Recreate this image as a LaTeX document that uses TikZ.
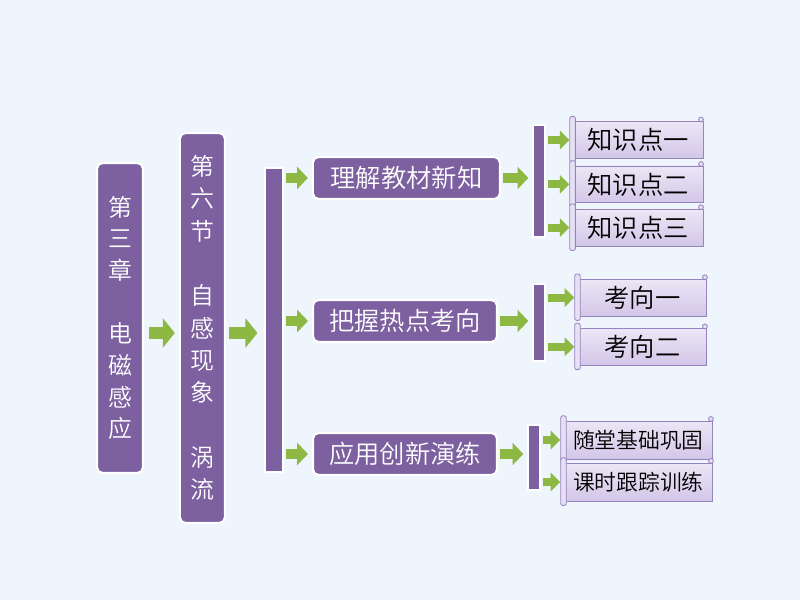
\documentclass[tikz,border=0pt]{standalone}
\usepackage{fontspec}
\setmainfont{Noto Sans CJK SC}[UprightFont=* DemiLight]
\usetikzlibrary{arrows.meta}
\definecolor{bgblue}{HTML}{EEF5FC}
\definecolor{boxpurple}{HTML}{7D60A0}
\definecolor{arrgreen}{HTML}{8DB843}
\definecolor{scrollfill}{HTML}{DDD2EF}
\definecolor{scrolledge}{HTML}{9585BE}

\tikzset{
  mainbox/.style={fill=boxpurple, draw=white, line width=1.5pt, rounded corners=4pt,
    text=white, inner sep=0pt, align=center},
  bar/.style={fill=boxpurple, draw=white, line width=1pt, inner sep=0pt},
  scroll/.style={top color=scrollfill!55!white, bottom color=scrollfill!85!scrolledge,
    draw=scrolledge, line width=0.6pt, inner sep=0pt, minimum height=0.92cm,
    font=\fontsize{18}{22}\selectfont},
  smallscroll/.style={scroll, minimum height=0.95cm, font=\fontsize{15.5}{19}\selectfont},
  bigarr/.style={arrgreen, line width=0.3cm, -{Triangle[width=0.72cm,length=0.3cm]}},
  midarr/.style={arrgreen, line width=0.24cm, -{Triangle[width=0.55cm,length=0.27cm]},
    shorten <=0.06cm, shorten >=0.1cm},
  smallarr/.style={arrgreen, line width=0.2cm, -{Triangle[width=0.46cm,length=0.24cm]},
    shorten <=0.05cm, shorten >=0.08cm}
}

% scroll shaped leaf box: style, name, position, width, text
\newcommand\scrollnode[5]{%
  \node[#1, minimum width=#4] (#2) at (#3) {#5};
  \draw[scrolledge, fill=scrollfill!70!white, line width=0.6pt, rounded corners=1.5pt]
    ([xshift=-0.07cm,yshift=0.12cm]#2.north west) rectangle ([xshift=0.07cm,yshift=-0.1cm]#2.south west);
  \draw[scrolledge, fill=scrollfill!70!white, line width=0.6pt]
    ([xshift=-0.06cm,yshift=0.04cm]#2.north east) circle (0.06cm);
}

\begin{document}
\begin{tikzpicture}
  \fill[bgblue] (0,0) rectangle (20,15);

  % chapter and section
  \node[mainbox, minimum width=1.15cm, minimum height=7.75cm,
    font=\fontsize{17}{22.5}\selectfont] (chap) at (3.0,7.05)
    {第\\三\\章\\~\\电\\磁\\感\\应};
  \node[mainbox, minimum width=1.125cm, minimum height=9.75cm,
    font=\fontsize{17}{23}\selectfont] (sec) at (5.06,6.8)
    {第\\六\\节\\~\\自\\感\\现\\象\\~\\涡\\流};
  \node[bar, minimum width=0.45cm, minimum height=7.6cm] (trunk) at (6.85,7.0) {};

  % three parts
  \node[mainbox, minimum width=4.675cm, minimum height=1.05cm,
    font=\fontsize{18}{22}\selectfont] (learn) at (10.16,10.55) {理解教材新知};
  \node[mainbox, minimum width=4.6cm, minimum height=1.05cm,
    font=\fontsize{18}{22}\selectfont] (focus) at (10.125,6.975) {把握热点考向};
  \node[mainbox, minimum width=4.6cm, minimum height=1.05cm,
    font=\fontsize{18}{22}\selectfont] (apply) at (10.125,3.65) {应用创新演练};

  \node[bar, minimum width=0.3cm, minimum height=2.8cm] (barA) at (13.475,10.475) {};
  \node[bar, minimum width=0.3cm, minimum height=1.925cm] (barB) at (13.475,6.94) {};
  \node[bar, minimum width=0.3cm, minimum height=1.625cm] (barC) at (13.35,3.56) {};

  % leaves
  \scrollnode{scroll}{kA}{15.95,11.5}{3.25cm}{知识点一}
  \scrollnode{scroll}{kB}{15.95,10.39}{3.25cm}{知识点二}
  \scrollnode{scroll}{kC}{15.95,9.31}{3.25cm}{知识点三}
  \scrollnode{scroll}{tA}{16.06,7.56}{3.225cm}{考向一}
  \scrollnode{scroll}{tB}{16.06,6.33}{3.225cm}{考向二}
  \scrollnode{smallscroll}{pA}{15.96,4.0}{3.725cm}{随堂基础巩固}
  \scrollnode{smallscroll}{pB}{15.96,2.95}{3.725cm}{课时跟踪训练}

  % arrows
  \coordinate (lvl) at (0,6.675);
  \draw[bigarr, shorten <=0.12cm, shorten >=0.1cm] (chap.east |- lvl) -- (sec.west |- lvl);
  \draw[bigarr, shorten <=0.08cm, shorten >=0.17cm] (sec.east |- lvl) -- (trunk.west |- lvl);
  \foreach \b in {learn,focus,apply}
    \draw[midarr] (trunk.east |- \b.west) -- (\b.west);
  \draw[midarr] (learn.east) -- (barA.west |- learn.east);
  \draw[midarr] (focus.east) -- (barB.west |- focus.east);
  \draw[midarr] (apply.east) -- (barC.west |- apply.east);
  \foreach \s in {kA,kB,kC}
    \draw[smallarr] (barA.east |- \s.west) -- (\s.west);
  \foreach \s in {tA,tB}
    \draw[smallarr] (barB.east |- \s.west) -- (\s.west);
  \foreach \s in {pA,pB}
    \draw[smallarr] (barC.east |- \s.west) -- (\s.west);
\end{tikzpicture}
\end{document}
